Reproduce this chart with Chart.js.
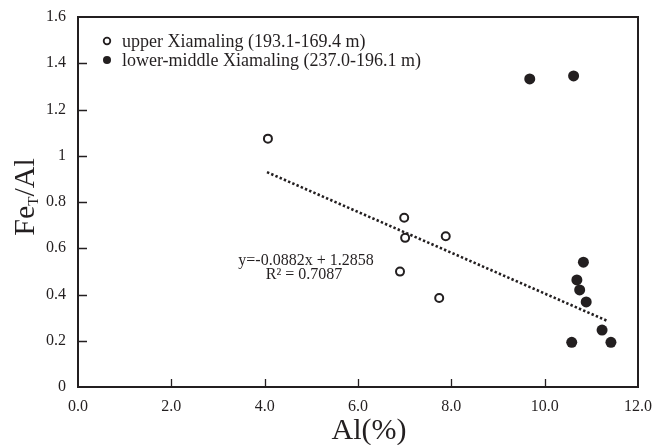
<!DOCTYPE html>
<html>
<head>
<meta charset="utf-8">
<script src="https://cdn.jsdelivr.net/npm/chart.js@4/dist/chart.umd.min.js"></script>
<style>
  html, body { margin: 0; padding: 0; background: #fff; }
  #wrap { width: 656px; height: 445px; }
</style>
</head>
<body>
<div id="wrap"><canvas id="c" width="656" height="445"></canvas></div>
<script>
// valores
const upperAl   = [4.07, 6.99, 7.01, 7.88, 6.90, 7.74];
const upperFeAl = [1.074, 0.732, 0.645, 0.652, 0.499, 0.385];
const lowerAl   = [9.68, 10.62, 10.83, 10.69, 10.75, 10.89, 11.23, 10.58, 11.42];
const lowerFeAl = [1.332, 1.345, 0.540, 0.463, 0.420, 0.368, 0.246, 0.193, 0.193];
const trendAl   = [4.05, 11.33];
const trendFeAl = [0.929, 0.287];
const xTicks    = [0, 2, 4, 6, 8, 10, 12];
const yTicks    = [0, 0.2, 0.4, 0.6, 0.8, 1, 1.2, 1.4, 1.6];
const legendTxt = ['upper Xiamaling (193.1-169.4 m)', 'lower-middle Xiamaling (237.0-196.1 m)'];
const eqTxt     = ['y=-0.0882x + 1.2858', 'R\u00B2 = 0.7087'];

const INK   = '#231f20';
const SERIF = '"Liberation Serif", "Times New Roman", serif';

const pts = (xs, ys) => xs.map((x, i) => ({ x, y: ys[i] }));

// marco, ticks hacia dentro, leyenda, ecuación y títulos
const frame = {
  id: 'frame',
  afterDraw(chart) {
    const { ctx, chartArea: a, scales: { x, y } } = chart;
    ctx.save();
    ctx.strokeStyle = INK;
    ctx.lineWidth = 2;
    ctx.strokeRect(a.left, a.top, a.right - a.left, a.bottom - a.top);
    ctx.lineWidth = 1.3;
    ctx.beginPath();
    xTicks.slice(1, -1).forEach(v => {
      const px = Math.round(x.getPixelForValue(v)) + 0.5;
      ctx.moveTo(px, a.bottom); ctx.lineTo(px, a.bottom - 8);
    });
    yTicks.slice(1, -1).forEach(v => {
      const py = Math.round(y.getPixelForValue(v)) + 0.5;
      ctx.moveTo(a.left, py); ctx.lineTo(a.left + 9, py);
    });
    ctx.stroke();

    // leyenda
    ctx.font = '18px ' + SERIF;
    ctx.fillStyle = INK;
    ctx.textBaseline = 'middle';
    ctx.textAlign = 'left';
    legendTxt.forEach((t, i) => {
      const cy = 41 + i * 19;
      ctx.beginPath();
      ctx.arc(107, cy, i ? 4 : 3.3, 0, Math.PI * 2);
      if (i) ctx.fill(); else { ctx.lineWidth = 1.8; ctx.stroke(); }
      ctx.fillText(t, 122, cy + 1);
    });

    // ecuación de la recta
    ctx.font = '16px ' + SERIF;
    ctx.textAlign = 'center';
    ctx.fillText(eqTxt[0], 306, 261);
    ctx.fillText(eqTxt[1], 304, 275);

    // título eje x
    ctx.font = '30px ' + SERIF;
    ctx.textBaseline = 'alphabetic';
    ctx.fillText('Al(%)', 369, 439);

    // título eje y: Fe_T/Al
    ctx.translate(34, 197);
    ctx.rotate(-Math.PI / 2);
    ctx.textAlign = 'left';
    const big = '30px ' + SERIF, small = '15px ' + SERIF;
    ctx.font = big;   const w1 = ctx.measureText('Fe').width;
    ctx.font = small; const w2 = ctx.measureText('T').width;
    ctx.font = big;   const w3 = ctx.measureText('/Al').width;
    let sx = -(w1 + w2 + w3) / 2;
    ctx.fillText('Fe', sx, 0); sx += w1;
    ctx.font = small; ctx.fillText('T', sx, 4); sx += w2;
    ctx.font = big;   ctx.fillText('/Al', sx, 0);
    ctx.restore();
  }
};

new Chart(document.getElementById('c'), {
  type: 'scatter',
  data: {
    datasets: [
      { label: 'trend', type: 'line', data: pts(trendAl, trendFeAl), borderColor: INK, borderWidth: 2.6, borderDash: [2.4, 2.2], pointRadius: 0, fill: false },
      { label: legendTxt[0], data: pts(upperAl, upperFeAl), pointRadius: 4, pointBorderWidth: 2, pointBorderColor: INK, pointBackgroundColor: '#fff' },
      { label: legendTxt[1], data: pts(lowerAl, lowerFeAl), pointRadius: 5.5, pointBorderWidth: 0, pointBackgroundColor: INK, pointBorderColor: INK },
    ],
  },
  options: {
    responsive: false,
    animation: false,
    layout: { autoPadding: false, padding: { left: 0, top: 17, right: 18, bottom: 0 } },
    plugins: { legend: { display: false }, tooltip: { enabled: false } },
    scales: {
      x: {
        type: 'linear', min: 0, max: 12,
        afterBuildTicks: s => { s.ticks = xTicks.map(v => ({ value: v })); },
        afterFit: s => { s.height = 58; s.paddingLeft = 0; s.paddingRight = 0; },
        grid: { display: false, drawTicks: false },
        border: { display: false },
        ticks: { padding: 10, color: INK, font: { family: SERIF, size: 16 }, callback: v => v.toFixed(1) },
      },
      y: {
        type: 'linear', min: 0, max: 1.6,
        afterBuildTicks: s => { s.ticks = yTicks.map(v => ({ value: v })); },
        afterFit: s => { s.width = 78; s.paddingTop = 0; s.paddingBottom = 0; },
        grid: { display: false, drawTicks: false },
        border: { display: false },
        ticks: { padding: 12, color: INK, font: { family: SERIF, size: 16 }, callback: v => String(+v.toFixed(1)) },
      },
    },
  },
  plugins: [frame],
});
</script>
</body>
</html>
